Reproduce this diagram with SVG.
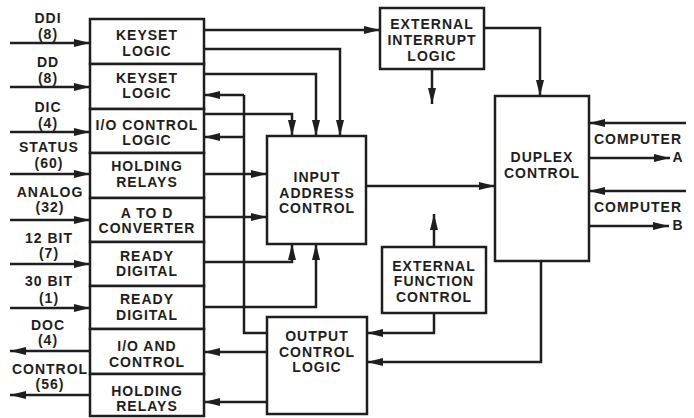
<svg xmlns="http://www.w3.org/2000/svg" width="694" height="418" viewBox="0 0 694 418">
<defs>
<style>
.box{fill:#fff;stroke:#1e1e1e;stroke-width:2.5}
.ln{fill:none;stroke:#1e1e1e;stroke-width:2.5}
.a{marker-end:url(#arr)}
text{font-family:"Liberation Sans",Arial,Helvetica,sans-serif;font-weight:bold;font-size:14px;letter-spacing:1px;fill:#1e1e1e;text-anchor:middle}
</style>
<marker id="arr" markerUnits="userSpaceOnUse" markerWidth="17" markerHeight="9" refX="16" refY="4.5" orient="auto">
<path d="M0,0.5 L16,4.5 L0,8.5 z" fill="#1e1e1e"/>
</marker>
</defs>
<rect width="694" height="418" fill="#fff"/>

<g id="connectors">
<line class="ln a" x1="10" y1="43" x2="90" y2="43"/>
<line class="ln a" x1="10" y1="87" x2="90" y2="87"/>
<line class="ln a" x1="10" y1="132" x2="90" y2="132"/>
<line class="ln a" x1="10" y1="174" x2="90" y2="174"/>
<line class="ln a" x1="10" y1="220" x2="90" y2="220"/>
<line class="ln a" x1="10" y1="264" x2="90" y2="264"/>
<line class="ln a" x1="10" y1="308" x2="90" y2="308"/>
<line class="ln a" x1="90" y1="351" x2="10" y2="351"/>
<line class="ln a" x1="90" y1="395" x2="10" y2="395"/>
<line class="ln a" x1="204" y1="30" x2="380" y2="30"/>
<polyline class="ln a" points="204,49 340,49 340,136"/>
<polyline class="ln a" points="204,74 316,74 316,136"/>
<polyline class="ln a" points="204,114 292,114 292,136"/>
<polyline class="ln" points="267,333 244,333 244,95"/>
<line class="ln a" x1="244" y1="95" x2="204" y2="95"/>
<line class="ln a" x1="244" y1="137" x2="204" y2="137"/>
<line class="ln a" x1="204" y1="174" x2="267" y2="174"/>
<line class="ln a" x1="204" y1="217" x2="267" y2="217"/>
<polyline class="ln a" points="204,262 292,262 292,244"/>
<polyline class="ln a" points="204,307 316,307 316,244"/>
<line class="ln a" x1="267" y1="352" x2="204" y2="352"/>
<line class="ln a" x1="267" y1="402" x2="204" y2="402"/>
<line class="ln a" x1="366" y1="186" x2="495" y2="186"/>
<polyline class="ln a" points="484,28 540,28 540,96"/>
<line class="ln a" x1="432" y1="69" x2="432" y2="104"/>
<line class="ln a" x1="434" y1="247" x2="434" y2="214"/>
<polyline class="ln a" points="434,313 434,333 367,333"/>
<polyline class="ln a" points="541,261 541,362 367,362"/>
<line class="ln a" x1="686" y1="123" x2="589" y2="123"/>
<line class="ln a" x1="589" y1="158" x2="670" y2="158"/>
<line class="ln a" x1="686" y1="191" x2="589" y2="191"/>
<line class="ln a" x1="589" y1="226" x2="669" y2="226"/>
</g>

<g id="labels">
<text x="48" y="23">DDI</text><text x="48" y="39">(8)</text>
<text x="48" y="67">DD</text><text x="48" y="83">(8)</text>
<text x="48" y="111.5">DIC</text><text x="48" y="127.5">(4)</text>
<text x="49" y="152">STATUS</text><text x="49" y="168">(60)</text>
<text x="50" y="197">ANALOG</text><text x="50" y="212">(32)</text>
<text x="49" y="243">12 BIT</text><text x="49" y="258">(7)</text>
<text x="49" y="286">30 BIT</text><text x="49" y="303">(1)</text>
<text x="48" y="329.5">DOC</text><text x="48" y="345">(4)</text>
<text x="50" y="373.5">CONTROL</text><text x="50" y="389">(56)</text>
<text x="638" y="144">COMPUTER</text><text x="678" y="162">A</text>
<text x="638" y="212">COMPUTER</text><text x="678" y="230">B</text>
</g>

<g id="keyset1"><rect class="box" x="90" y="19" width="114" height="45"/><text x="147" y="40">KEYSET</text><text x="147" y="56">LOGIC</text></g>
<g id="keyset2"><rect class="box" x="90" y="64" width="114" height="45"/><text x="147" y="83">KEYSET</text><text x="147" y="98">LOGIC</text></g>
<g id="io-control-logic"><rect class="box" x="90" y="109" width="114" height="44"/><text x="147" y="129.5">I/O CONTROL</text><text x="147" y="145">LOGIC</text></g>
<g id="holding-relays1"><rect class="box" x="90" y="153" width="114" height="45"/><text x="147" y="171">HOLDING</text><text x="147" y="187">RELAYS</text></g>
<g id="a-to-d"><rect class="box" x="90" y="198" width="114" height="44"/><text x="147" y="218">A TO D</text><text x="147" y="233">CONVERTER</text></g>
<g id="ready-digital1"><rect class="box" x="90" y="242" width="114" height="44"/><text x="147" y="261">READY</text><text x="147" y="276">DIGITAL</text></g>
<g id="ready-digital2"><rect class="box" x="90" y="286" width="114" height="43"/><text x="147" y="304">READY</text><text x="147" y="320">DIGITAL</text></g>
<g id="io-and-control"><rect class="box" x="90" y="329" width="114" height="45"/><text x="147" y="351">I/O AND</text><text x="147" y="367">CONTROL</text></g>
<g id="holding-relays2"><rect class="box" x="90" y="374" width="114" height="42"/><text x="147" y="396">HOLDING</text><text x="147" y="411">RELAYS</text></g>

<g id="input-address-control"><rect class="box" x="267" y="136" width="99" height="108"/><text x="317" y="182">INPUT</text><text x="317" y="198">ADDRESS</text><text x="317" y="213">CONTROL</text></g>
<g id="output-control-logic"><rect class="box" x="267" y="317" width="100" height="97"/><text x="317" y="341">OUTPUT</text><text x="317" y="357">CONTROL</text><text x="317" y="372">LOGIC</text></g>
<g id="external-interrupt-logic"><rect class="box" x="380" y="8" width="104" height="61"/><text x="432" y="29">EXTERNAL</text><text x="432" y="45">INTERRUPT</text><text x="432" y="61">LOGIC</text></g>
<g id="external-function-control"><rect class="box" x="382" y="247" width="104" height="66"/><text x="434" y="271">EXTERNAL</text><text x="434" y="286">FUNCTION</text><text x="434" y="302">CONTROL</text></g>
<g id="duplex-control"><rect class="box" x="495" y="96" width="94" height="165"/><text x="542" y="162">DUPLEX</text><text x="542" y="178">CONTROL</text></g>
</svg>
